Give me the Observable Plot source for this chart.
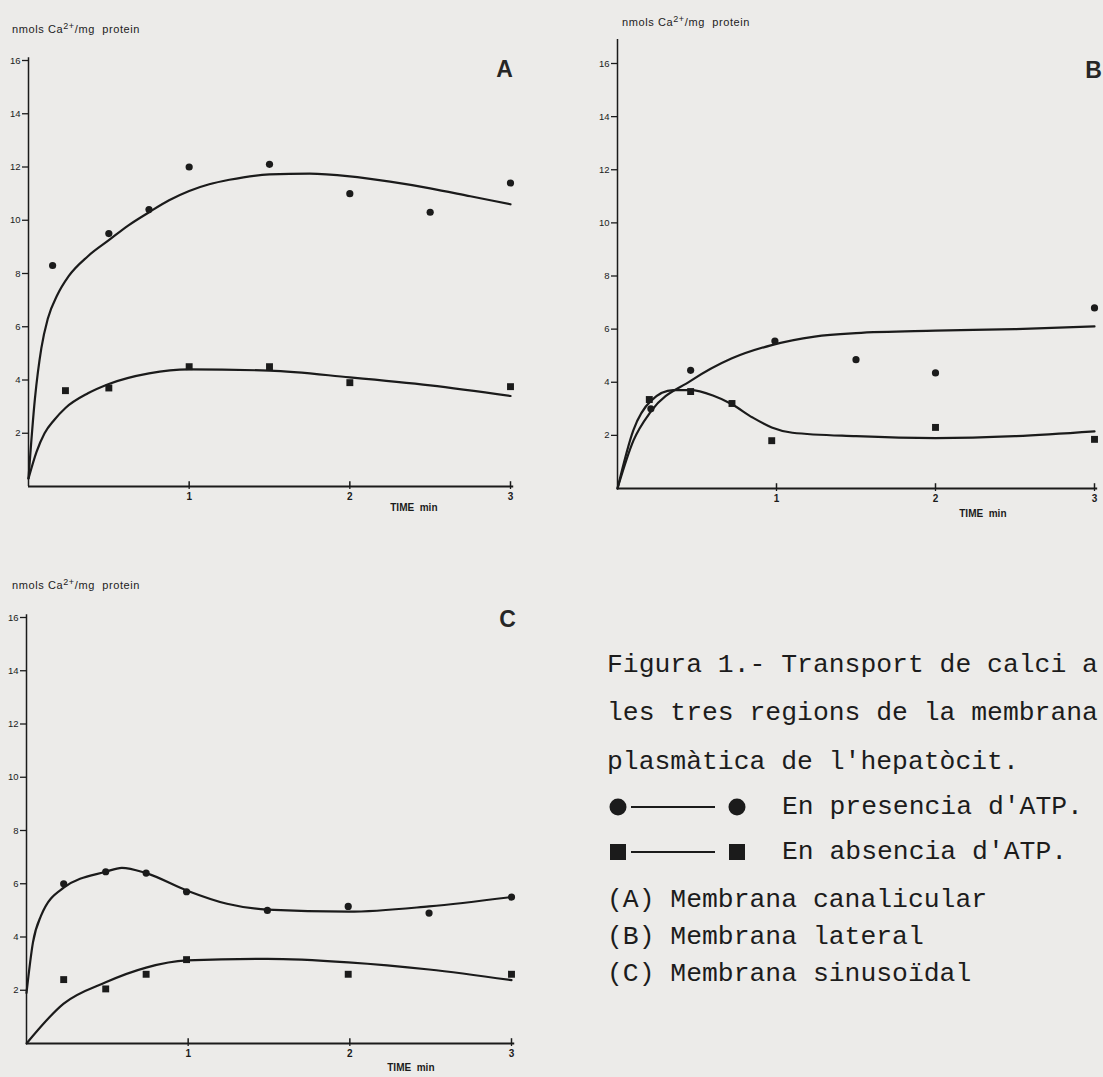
<!DOCTYPE html>
<html>
<head>
<meta charset="utf-8">
<script src="https://cdn.jsdelivr.net/npm/d3@7"></script>
<script src="https://cdn.jsdelivr.net/npm/@observablehq/plot@0.6"></script>
<style>
  html, body { margin: 0; padding: 0; background: #ecebe9; }
  #page { position: relative; width: 1103px; height: 1077px; overflow: hidden; background: #ecebe9; }
  .panel { position: absolute; left: 0; top: 0; }
  .ylab { position: absolute; font-family: "Liberation Sans", Arial, sans-serif; font-size: 11px; letter-spacing: 0.6px; color: #222; white-space: nowrap; transform: translateY(-50%); }
  .ylab sup { font-size: 9px; }
  .cap { position: absolute; left: 607px; font-family: "Liberation Mono", "Courier New", monospace; font-size: 26.4px; color: #1c1c1c; white-space: pre; transform: translateY(-50%); line-height: 1; }
  .leg { position: absolute; left: 607px; display: flex; align-items: center; transform: translateY(-50%); }
  .leg span { font-family: "Liberation Mono", "Courier New", monospace; font-size: 26.4px; color: #1c1c1c; white-space: pre; margin-left: 35px; }
</style>
</head>
<body>
<div id="page"></div>
<script>
// ---------- data ----------
const panelNames = ["A", "B", "C"];
const timeTicks = [1, 2, 3];
const yTicks = [2, 4, 6, 8, 10, 12, 14, 16];
const yLabelText = "nmols Ca";
const xLabelText = "TIME  min";

// Panel A (Membrana canalicular): measured points
const aAtpT = [0.15, 0.5, 0.75, 1.0, 1.5, 2.0, 2.5, 3.0];
const aAtpV = [8.3, 9.5, 10.4, 12.0, 12.1, 11.0, 10.3, 11.4];
const aNoT = [0.23, 0.5, 1.0, 1.5, 2.0, 3.0];
const aNoV = [3.6, 3.7, 4.5, 4.5, 3.9, 3.75];
// Panel A fitted curves
const aAtpCurveT = [0, 0.04, 0.08, 0.12, 0.18, 0.25, 0.37, 0.5, 0.62, 0.75, 0.875, 1.0, 1.125, 1.25, 1.5, 1.75, 2.0, 2.25, 2.5, 2.75, 3.0];
const aAtpCurveV = [0.3, 3.3, 5.2, 6.3, 7.2, 7.9, 8.65, 9.25, 9.8, 10.3, 10.75, 11.1, 11.35, 11.52, 11.72, 11.75, 11.65, 11.45, 11.2, 10.9, 10.6];
const aNoCurveT = [0, 0.05, 0.1, 0.16, 0.23, 0.37, 0.5, 0.75, 1.0, 1.5, 2.0, 2.5, 3.0];
const aNoCurveV = [0.3, 1.3, 2.0, 2.5, 2.95, 3.5, 3.85, 4.25, 4.4, 4.35, 4.1, 3.8, 3.4];

// Panel B (Membrana lateral): measured points
const bAtpT = [0.21, 0.46, 0.99, 1.5, 2.0, 3.0];
const bAtpV = [3.0, 4.45, 5.55, 4.85, 4.35, 6.8];
const bNoT = [0.2, 0.46, 0.72, 0.97, 2.0, 3.0];
const bNoV = [3.35, 3.65, 3.2, 1.8, 2.3, 1.85];
// Panel B fitted curves
const bAtpCurveT = [0, 0.1, 0.21, 0.46, 0.72, 0.97, 1.24, 1.5, 2.0, 2.5, 3.0];
const bAtpCurveV = [0, 1.8, 2.9, 4.05, 4.9, 5.4, 5.72, 5.85, 5.94, 6.0, 6.1];
const bNoCurveT = [0, 0.1, 0.21, 0.35, 0.46, 0.6, 0.72, 0.85, 0.97, 1.1, 1.5, 2.0, 2.5, 3.0];
const bNoCurveV = [0, 2.2, 3.3, 3.7, 3.7, 3.5, 3.17, 2.67, 2.3, 2.1, 1.97, 1.9, 1.97, 2.15];

// Panel C (Membrana sinusoïdal): measured points
const cAtpT = [0.23, 0.49, 0.74, 0.99, 1.49, 1.99, 2.49, 3.0];
const cAtpV = [6.0, 6.45, 6.4, 5.7, 5.0, 5.15, 4.9, 5.5];
const cNoT = [0.23, 0.49, 0.74, 0.99, 1.99, 3.0];
const cNoV = [2.4, 2.05, 2.6, 3.15, 2.6, 2.6];
// Panel C fitted curves
const cAtpCurveT = [0, 0.04, 0.09, 0.23, 0.49, 0.59, 0.74, 0.99, 1.24, 1.49, 1.99, 2.49, 3.0];
const cAtpCurveV = [1.9, 3.8, 4.8, 5.85, 6.45, 6.6, 6.4, 5.75, 5.25, 5.03, 4.95, 5.15, 5.5];
const cNoCurveT = [0, 0.23, 0.49, 0.74, 0.99, 1.49, 1.99, 2.49, 3.0];
const cNoCurveV = [0, 1.5, 2.3, 2.85, 3.12, 3.18, 3.05, 2.78, 2.38];

// Caption and legend
const captionLines = ["Figura 1.- Transport de calci a", "les tres regions de la membrana", "plasmàtica de l'hepatòcit."];
const legendLabels = ["En presencia d'ATP.", "En absencia d'ATP."];
const regionLabels = ["(A) Membrana canalicular", "(B) Membrana lateral", "(C) Membrana sinusoïdal"];

// ---------- helpers ----------
const zip = (ts, vs) => ts.map((t, i) => ({t, v: vs[i]}));
const INK = "#1b1b1b";

function makePanel(cfg) {
  const ml = cfg.x0 - cfg.left, mt = cfg.y16 - cfg.top;
  const width = cfg.width, height = cfg.height;
  const mr = cfg.left + width - cfg.x3, mb = cfg.top + height - cfg.y0;
  const chart = Plot.plot({
    width, height,
    marginLeft: ml, marginRight: mr, marginTop: mt, marginBottom: mb,
    x: {domain: [0, 3]},
    y: {domain: [0, 16]},
    style: {background: "transparent", fontFamily: "'Liberation Sans', Arial, sans-serif", color: INK, overflow: "visible"},
    marks: [
      Plot.ruleY([0], {x1: 0, x2: 3.02, stroke: INK, strokeWidth: 2}),
      Plot.ruleX([0], {y1: 0, y2: cfg.yTop, stroke: INK, strokeWidth: 1.5}),
      Plot.ruleX(timeTicks, {y1: 0, y2: 0.18, stroke: INK, strokeWidth: 1.5}),
      Plot.axisY({ticks: yTicks, tickSize: 6, tickPadding: 2, label: null, fontSize: 9.5, stroke: INK, strokeWidth: 1.3}),
      Plot.axisX({ticks: timeTicks, tickFormat: d3.format("d"), tickSize: 3, tickPadding: 3, label: null, fontSize: 10, fontWeight: "bold", stroke: INK, strokeWidth: 1.3}),
      Plot.line(zip(cfg.atpCurveT, cfg.atpCurveV), {x: "t", y: "v", curve: "monotone-x", stroke: INK, strokeWidth: 2.2}),
      Plot.line(zip(cfg.noCurveT, cfg.noCurveV), {x: "t", y: "v", curve: "monotone-x", stroke: INK, strokeWidth: 2.2}),
      Plot.dot(zip(cfg.atpT, cfg.atpV), {x: "t", y: "v", r: 3.6, fill: INK, stroke: "none", symbol: "circle"}),
      Plot.dot(zip(cfg.noT, cfg.noV), {x: "t", y: "v", r: 3.9, fill: INK, stroke: "none", symbol: "square"}),
      Plot.text([cfg.name], {frameAnchor: "top-right", text: d => d, fontSize: 23, fontWeight: "bold", fill: "#262626", textAnchor: "middle", dx: cfg.letterDx, dy: cfg.letterDy}),
      Plot.text([xLabelText], {frameAnchor: "bottom-right", text: d => d, fontSize: 10, fontWeight: "bold", fill: INK, textAnchor: "end", dx: cfg.xlabDx, dy: cfg.xlabDy})
    ]
  });
  chart.classList.add("panel");
  chart.style.left = cfg.left + "px";
  chart.style.top = cfg.top + "px";
  chart.style.overflow = "visible";
  return chart;
}

const page = document.getElementById("page");

const panelCfgs = [
  {name: panelNames[0], left: 0, top: 0, width: 560, height: 540, x0: 28, x3: 510, y0: 486, y16: 60, yTop: 16.1,
   atpT: aAtpT, atpV: aAtpV, noT: aNoT, noV: aNoV,
   atpCurveT: aAtpCurveT, atpCurveV: aAtpCurveV, noCurveT: aNoCurveT, noCurveV: aNoCurveV,
   letterDx: -6, letterDy: 0, xlabDx: -73, xlabDy: 24, ylab: {x: 12, y: 28}},
  {name: panelNames[1], left: 580, top: 0, width: 523, height: 540, x0: 617, x3: 1094, y0: 488, y16: 63, yTop: 16.9,
   atpT: bAtpT, atpV: bAtpV, noT: bNoT, noV: bNoV,
   atpCurveT: bAtpCurveT, atpCurveV: bAtpCurveV, noCurveT: bNoCurveT, noCurveV: bNoCurveV,
   letterDx: -1, letterDy: -2, xlabDx: -88, xlabDy: 28, ylab: {x: 622, y: 21}},
  {name: panelNames[2], left: 0, top: 560, width: 560, height: 517, x0: 26, x3: 511, y0: 1043, y16: 617, yTop: 16.1,
   atpT: cAtpT, atpV: cAtpV, noT: cNoT, noV: cNoV,
   atpCurveT: cAtpCurveT, atpCurveV: cAtpCurveV, noCurveT: cNoCurveT, noCurveV: cNoCurveV,
   letterDx: -4, letterDy: -7, xlabDx: -77, xlabDy: 27, ylab: {x: 12, y: 584}}
];

for (const cfg of panelCfgs) {
  page.appendChild(makePanel(cfg));
  const yl = document.createElement("div");
  yl.className = "ylab";
  yl.style.left = cfg.ylab.x + "px";
  yl.style.top = cfg.ylab.y + "px";
  yl.innerHTML = yLabelText + "<sup>2+</sup>/mg&nbsp;&nbsp;protein";
  page.appendChild(yl);
}

// caption lines
const capY = [665, 713, 762];
captionLines.forEach((s, i) => {
  const d = document.createElement("div");
  d.className = "cap";
  d.style.top = capY[i] + "px";
  d.textContent = s;
  page.appendChild(d);
});

// legend rows
const legY = [807, 852];
const legSym = ["circle", "square"];
legendLabels.forEach((s, i) => {
  const row = document.createElement("div");
  row.className = "leg";
  row.style.top = legY[i] + "px";
  const ns = "http://www.w3.org/2000/svg";
  const svg = document.createElementNS(ns, "svg");
  svg.setAttribute("width", 140); svg.setAttribute("height", 22);
  const line = document.createElementNS(ns, "line");
  line.setAttribute("x1", 24); line.setAttribute("x2", 108); line.setAttribute("y1", 11); line.setAttribute("y2", 11);
  line.setAttribute("stroke", INK); line.setAttribute("stroke-width", 2);
  svg.appendChild(line);
  for (const cx of [11, 130]) {
    let el;
    if (legSym[i] === "circle") {
      el = document.createElementNS(ns, "circle");
      el.setAttribute("cx", cx); el.setAttribute("cy", 11); el.setAttribute("r", 8.5);
    } else {
      el = document.createElementNS(ns, "rect");
      el.setAttribute("x", cx - 8); el.setAttribute("y", 3); el.setAttribute("width", 16); el.setAttribute("height", 16);
    }
    el.setAttribute("fill", INK);
    svg.appendChild(el);
  }
  row.appendChild(svg);
  const sp = document.createElement("span");
  sp.textContent = s;
  row.appendChild(sp);
  page.appendChild(row);
});

// region labels
const regY = [900, 937, 974];
regionLabels.forEach((s, i) => {
  const d = document.createElement("div");
  d.className = "cap";
  d.style.top = regY[i] + "px";
  d.textContent = s;
  page.appendChild(d);
});
</script>
</body>
</html>
